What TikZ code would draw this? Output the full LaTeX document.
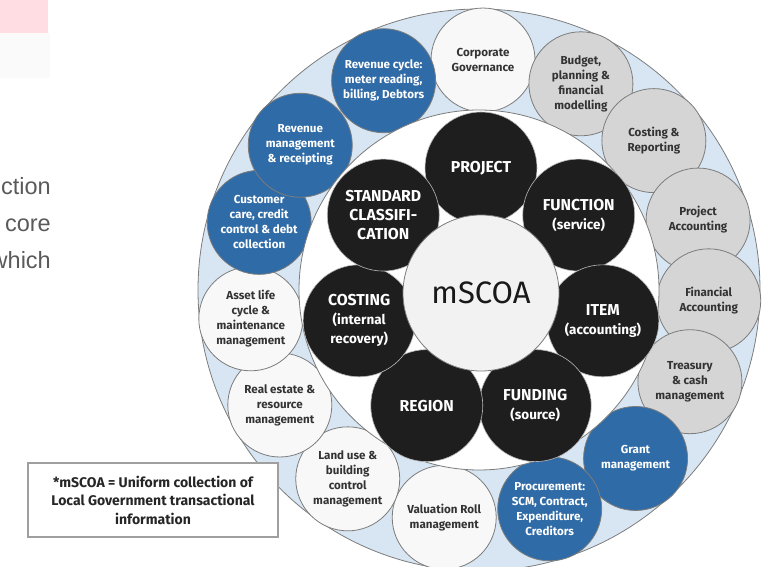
\documentclass[tikz,border=0pt]{standalone}
\usepackage{fontspec}
\setmainfont{Fira Sans}
\newfontfamily\sidefont{Liberation Sans}
\definecolor{ringblue}{HTML}{D7E6F2}
\definecolor{bubblue}{HTML}{2F6BA7}
\definecolor{bubgrey}{HTML}{D5D5D5}
\definecolor{bubwhite}{HTML}{F8F8F8}
\definecolor{coreblack}{HTML}{1E1E1E}
\definecolor{edgegrey}{HTML}{7C7C7C}
\definecolor{txtdark}{HTML}{333333}
\definecolor{sidegrey}{HTML}{5A5A5A}
\definecolor{tabpink}{HTML}{FFDDE3}
\newcommand{\bubfont}{\fontsize{11.6}{15}\selectfont\bfseries}
\newcommand{\corefont}{\fontsize{15.8}{19}\selectfont\bfseries}
\newcommand{\lowfont}{\fontsize{13.5}{17.5}\selectfont\bfseries}

\begin{document}
\begin{tikzpicture}[x=1pt,y=1pt,
   bubble/.style={circle, draw=edgegrey, line width=0.8pt, minimum size=104pt,
      inner sep=0pt, align=center, font=\bubfont},
   core/.style={circle, draw=gray!55, line width=0.6pt, fill=coreblack, text=white,
      minimum size=112pt, inner sep=0pt, align=center, font=\corefont},
   hub/.style={circle, draw=edgegrey, line width=0.8pt, fill=black!5, text=black!90,
      minimum size=156pt, inner sep=0pt, font=\fontsize{31}{34}\selectfont},
   notebox/.style={draw=gray!75, line width=1.2pt, fill=white, text=black!85,
      minimum width=250pt, minimum height=74pt, align=center,
      font=\fontsize{14}{18.5}\selectfont\bfseries},
   sidetext/.style={anchor=base east, inner sep=0pt, text=sidegrey,
      font=\sidefont\fontsize{23.5}{28}\selectfont}]
   \useasboundingbox (0,0) rectangle (776,567);
   % corner tabs and cut-off slide text
   \fill[tabpink] (0,534) rectangle (48,567);
   \fill[black!2] (0,489) rectangle (50,534);
   \node[sidetext] (side1) at (51,372) {ction};
   \node[sidetext] (side2) at (51,335) {core};
   \node[sidetext] (side3) at (51,298) {which};
   % ring of processes
   \coordinate (c) at (479,277);
   \coordinate (m) at (481,274);
   \draw[draw=edgegrey, line width=0.8pt, fill=ringblue] (c) circle (281pt);
   \foreach \ang/\col/\txt/\lbl [count=\i] in {
      89/bubwhite/txtdark/{Corporate\\Governance},
      63.7/bubgrey/txtdark/{Budget,\\planning \&\\financial\\modelling},
      40.5/bubgrey/txtdark/{Costing \&\\Reporting},
      17.7/bubgrey/txtdark/{Project\\Accounting},
      -2.7/bubgrey/txtdark/{Financial\\Accounting},
      -23.5/bubgrey/txtdark/{Treasury\\\& cash\\management},
      -47.1/bubblue/white/{Grant\\management},
      -72.1/bubblue/white/{Procurement:\\SCM, Contract,\\Expenditure,\\Creditors},
      -98.7/bubwhite/txtdark/{Valuation Roll\\management},
      -124.8/bubwhite/txtdark/{Land use \&\\building\\control\\management},
      -150/bubwhite/txtdark/{Real estate \&\\resource\\management},
      -172.8/bubwhite/txtdark/{Asset life\\cycle \&\\maintenance\\management},
      162.9/bubblue/white/{Customer\\care, credit\\control \& debt\\collection},
      141/bubblue/white/{Revenue\\management\\\& receipting},
      114.5/bubblue/white/{Revenue cycle:\\meter reading,\\billing, Debtors}}
      \node[bubble, fill=\col, text=\txt] (proc\i) at ([shift={(\ang:230pt)}]c) {\lbl};
   % segments of the chart
   \draw[draw=edgegrey, line width=0.8pt, fill=white] (c) circle (180pt);
   \foreach \lbl [count=\k from 0, evaluate=\k as \ang using 90-\k*360/7] in {
      PROJECT,
      {FUNCTION\\{\lowfont(service)}},
      {ITEM\\{\lowfont(accounting)}},
      {FUNDING\\{\lowfont(source)}},
      REGION,
      {COSTING\\{\lowfont(internal}\\{\lowfont recovery)}},
      {STANDARD\\CLASSIFI-\\CATION}}
      \node[core] (seg\k) at ([shift={(\ang:125pt)}]m) {\lbl};
   \node[hub] (hub) at (m) {mSCOA};
   % footnote
   \node[notebox] (note) at (153,67)
      {*mSCOA = Uniform collection of\\Local Government transactional\\information};
\end{tikzpicture}
\end{document}
